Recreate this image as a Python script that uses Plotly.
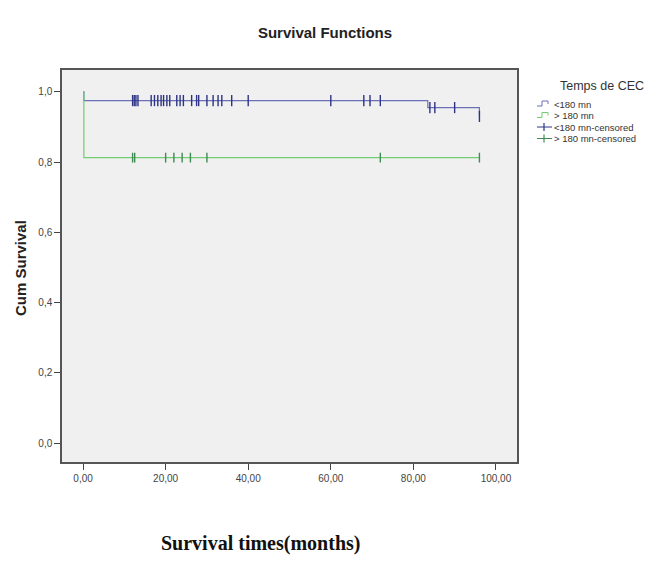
import plotly.graph_objects as go

# ---- data ----
blue_name = "<180 mn"
green_name = "> 180 mn"
blue_times = [0, 0.2, 83.5, 96]
blue_surv = [1.0, 0.975, 0.955, 0.93]
green_times = [0, 0.2, 96]
green_surv = [1.0, 0.8125, 0.8125]

blue_cens_times = [12, 12.4, 12.8, 13.3, 16.5, 17.3, 18.1, 18.9, 19.5, 20.3, 21,
                   22.7, 23.5, 24.3, 26.3, 27.5, 28, 30, 31.5, 32.7, 33.6, 36, 40,
                   60, 68, 69.5, 72, 84, 85.2, 90, 96]
blue_cens_surv = [0.975] * 27 + [0.955, 0.955, 0.955, 0.93]
green_cens_times = [12, 12.5, 20, 22, 24, 26, 30, 72, 96]
green_cens_surv = [0.8125] * 9

x_ticks = [0, 20, 40, 60, 80, 100]
y_ticks = [0, 0.2, 0.4, 0.6, 0.8, 1.0]

BLUE_LINE = "#6a71b8"
BLUE_MARK = "#2e3485"
GREEN_LINE = "#72cc72"
GREEN_MARK = "#3f8a55"

OFF = 8  # page body margin
W, H = 666 - 2 * OFF, 580 - 2 * OFF
L, R, T, B = 62 - OFF, 517 - OFF, 70 - OFF, 462 - OFF

def px(x):
    # x given in reference-screen pixels
    return (x - OFF - L) / (R - L)

def py(y):
    return (B - (y - OFF)) / (B - T)

fig = go.Figure()
fig.add_trace(go.Scatter(x=blue_times, y=blue_surv, mode="lines", line_shape="hv",
                         line=dict(color=BLUE_LINE, width=1.2), showlegend=False))
fig.add_trace(go.Scatter(x=green_times, y=green_surv, mode="lines", line_shape="hv",
                         line=dict(color=GREEN_LINE, width=1.2), showlegend=False))
fig.add_trace(go.Scatter(x=blue_cens_times, y=blue_cens_surv, mode="markers",
                         marker=dict(symbol="line-ns-open", size=8, color=BLUE_MARK,
                                     line=dict(color=BLUE_MARK, width=1.4)),
                         showlegend=False))
fig.add_trace(go.Scatter(x=green_cens_times, y=green_cens_surv, mode="markers",
                         marker=dict(symbol="line-ns-open", size=7, color=GREEN_MARK,
                                     line=dict(color=GREEN_MARK, width=1.4)),
                         showlegend=False))

shapes = []
annotations = []

# legend
annotations.append(dict(text="Temps de CEC", x=px(602), y=py(86), xref="paper", yref="paper",
                        showarrow=False, xanchor="center", yanchor="middle",
                        font=dict(family="Arial", size=12.5, color="#333")))
legend_rows = [(blue_name, "step", BLUE_LINE, 104),
               (green_name, "step", GREEN_LINE, 115.5),
               (blue_name + "-censored", "cens", BLUE_MARK, 127),
               (green_name + "-censored", "cens", GREEN_MARK, 138.5)]
for label, kind, col, yy in legend_rows:
    if kind == "step":
        path = "M {} {} L {} {} L {} {} L {} {} L {} {}".format(
            px(537), py(yy + 2), px(542), py(yy + 2), px(542), py(yy - 3),
            px(548), py(yy - 3), px(548), py(yy))
        shapes.append(dict(type="path", path=path, xref="paper", yref="paper",
                           line=dict(color=col, width=1)))
    else:
        shapes.append(dict(type="line", x0=px(537), x1=px(552), y0=py(yy), y1=py(yy),
                           xref="paper", yref="paper", line=dict(color=col, width=1)))
        shapes.append(dict(type="line", x0=px(544), x1=px(544), y0=py(yy - 4), y1=py(yy + 4),
                           xref="paper", yref="paper", line=dict(color=col, width=1.2)))
    annotations.append(dict(text=label, x=px(552), y=py(yy), xref="paper", yref="paper",
                            showarrow=False, xanchor="left", yanchor="middle",
                            font=dict(family="Arial", size=9.5, color="#333")))

annotations.append(dict(text="<b>Cum Survival</b>", x=px(20), y=py(268), xref="paper", yref="paper",
                        showarrow=False, textangle=-90, xanchor="center", yanchor="middle",
                        font=dict(family="Arial", size=15, color="#222")))
annotations.append(dict(text="<b>Survival times(months)</b>", x=px(260), y=py(543),
                        xref="paper", yref="paper", showarrow=False,
                        xanchor="center", yanchor="middle",
                        font=dict(family="Liberation Serif", size=20, color="#111")))

fig.update_layout(
    width=W, height=H,
    margin=dict(l=L, r=W - R, t=T, b=H - B, pad=0),
    paper_bgcolor="white", plot_bgcolor="#f0f0f0",
    separators=",.",
    title=dict(text="<b>Survival Functions</b>", x=(325 - OFF) / W, xanchor="center",
               y=1 - (33 - OFF) / H, yanchor="middle",
               font=dict(family="Arial", size=15, color="#222")),
    shapes=shapes, annotations=annotations,
    showlegend=False,
)
fig.update_xaxes(range=[-5.1, 105.1], tickvals=x_ticks, tickformat=".2f",
                 showline=True, mirror=True, linecolor="#555", linewidth=1.5,
                 ticks="outside", ticklen=6, tickcolor="#444", showgrid=False, zeroline=False,
                 tickfont=dict(family="Arial", size=10, color="#444"))
fig.update_yaxes(range=[-0.054, 1.062], tickvals=y_ticks, tickformat=".1f",
                 showline=True, mirror=True, linecolor="#555", linewidth=1.5,
                 ticks="outside", ticklen=6, tickcolor="#444", showgrid=False, zeroline=False,
                 tickfont=dict(family="Arial", size=10, color="#444"))

fig.write_html("out.html")
